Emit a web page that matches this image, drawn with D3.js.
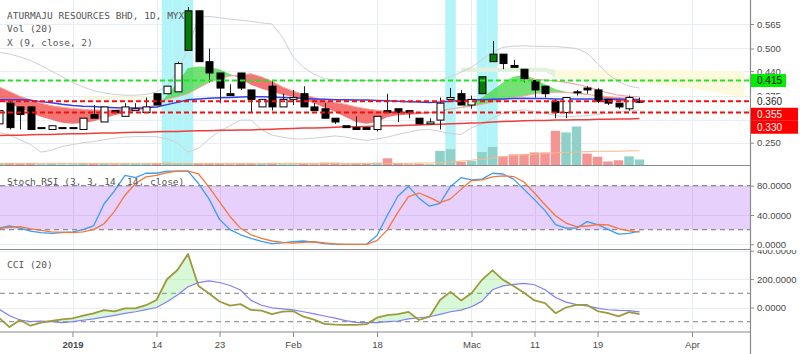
<!DOCTYPE html>
<html>
<head>
<meta charset="utf-8">
<script src="https://cdn.jsdelivr.net/npm/d3@7"></script>
<style>
  body { margin: 0; background: #fff; }
  svg { display: block; font-family: "Liberation Sans", Arial, sans-serif; }
  .legend { font-family: "DejaVu Sans Mono", monospace; font-size: 9.5px; fill: #555; }
  .axis text { font-family: "Liberation Sans", Arial, sans-serif; font-size: 9.5px; fill: #4a4a4a; }
  .axis line { stroke: #8a8a8a; }
</style>
</head>
<body>
<div id="chart"><svg width="800" height="354"></svg></div>
<script>
// ---- data (one entry per trading day) ----
const opens = [0.300,0.355,0.345,0.345,0.290,0.285,0.290,0.290,0.285,0.325,
  0.305,0.335,0.320,0.335,0.330,0.380,0.380,0.385,0.495,0.600,
  0.465,0.435,0.380,0.435,0.390,0.345,0.400,0.345,0.365,0.380,
  0.345,0.340,0.315,0.295,0.290,0.290,0.285,0.335,0.340,0.335,
  0.315,0.300,0.310,0.365,0.380,0.350,0.380,0.465,0.485,0.455,
  0.445,0.415,0.400,0.360,0.330,0.385,0.395,0.390,0.365,0.355,0.340,0.360];
const highs = [0.340,0.360,0.345,0.345,0.290,0.295,0.290,0.290,0.315,0.350,
  0.345,0.335,0.355,0.355,0.370,0.380,0.400,0.465,0.610,0.600,
  0.500,0.435,0.405,0.435,0.390,0.365,0.415,0.380,0.390,0.400,
  0.355,0.355,0.315,0.295,0.320,0.290,0.320,0.380,0.340,0.335,
  0.315,0.315,0.370,0.395,0.390,0.375,0.425,0.520,0.485,0.470,
  0.445,0.415,0.400,0.365,0.370,0.390,0.400,0.395,0.365,0.355,0.375,0.370];
const lows = [0.290,0.285,0.285,0.285,0.290,0.285,0.290,0.290,0.285,0.315,
  0.305,0.330,0.320,0.335,0.330,0.350,0.380,0.385,0.495,0.465,
  0.410,0.355,0.375,0.390,0.330,0.345,0.335,0.345,0.350,0.345,
  0.335,0.315,0.300,0.290,0.285,0.285,0.280,0.330,0.305,0.315,
  0.300,0.300,0.285,0.365,0.350,0.340,0.380,0.465,0.445,0.450,
  0.410,0.370,0.370,0.315,0.315,0.375,0.380,0.355,0.350,0.340,0.335,0.355];
const closes = [0.335,0.290,0.325,0.285,0.290,0.295,0.290,0.290,0.315,0.315,
  0.345,0.330,0.345,0.340,0.345,0.350,0.400,0.460,0.600,0.465,
  0.435,0.395,0.375,0.395,0.365,0.365,0.345,0.365,0.370,0.345,
  0.335,0.315,0.305,0.290,0.285,0.285,0.320,0.330,0.330,0.330,
  0.300,0.305,0.355,0.370,0.350,0.365,0.425,0.485,0.460,0.450,
  0.420,0.390,0.380,0.330,0.370,0.385,0.390,0.360,0.355,0.345,0.370,0.360];
const volumes = [3,5,4,5,2,3,2,2,4,3, 4,2,3,3,3,5,6,5,4,4,
  3,3,2,3,3,3,4,2,2,3, 2,6,6,2,3,3,6,17,4,2,
  3,2,36,40,8,10,33,46,22,27, 27,32,32,87,83,98,29,21,9,12,22,14];
const volumeMA = [4,4,4,4,4,4,4,4,4,4, 4,4,4,4,4,4,4,4,4,4,
  4,4,4,4,4,4,4,4,4,4, 4,4,4,4,4,4,4,4,4,4,
  5,5,6,8,10,12,15,18,21,24, 26,28,29,31,32,33,34,35,35,35,36,36];
const bbUpper = [0.490,0.485,0.478,0.468,0.455,0.440,0.425,0.410,0.398,0.388,
  0.382,0.378,0.376,0.376,0.378,0.385,0.400,0.440,0.500,0.583,
  0.585,0.582,0.578,0.575,0.572,0.568,0.565,0.530,0.478,0.450,
  0.432,0.420,0.417,0.415,0.415,0.415,0.415,0.415,0.415,0.415,
  0.415,0.415,0.415,0.425,0.437,0.450,0.470,0.490,0.503,0.506,
  0.507,0.506,0.505,0.505,0.503,0.500,0.488,0.460,0.432,0.412,0.400,0.395];
const bbLower = [0.277,0.270,0.258,0.245,0.225,0.230,0.240,0.245,0.250,0.253,
  0.258,0.262,0.265,0.266,0.266,0.266,0.260,0.250,0.225,0.235,
  0.260,0.280,0.295,0.310,0.310,0.285,0.270,0.265,0.260,0.260,
  0.262,0.265,0.268,0.265,0.260,0.256,0.260,0.265,0.272,0.278,
  0.284,0.285,0.280,0.274,0.272,0.290,0.300,0.315,0.328,0.335,
  0.337,0.333,0.328,0.322,0.319,0.320,0.322,0.325,0.328,0.331,0.334,0.337];
const maBlue = [0.364,0.364,0.364,0.363,0.359,0.356,0.352,0.349,0.347,0.346,
  0.344,0.343,0.342,0.342,0.343,0.345,0.351,0.357,0.364,0.366,
  0.368,0.369,0.370,0.371,0.372,0.372,0.371,0.370,0.369,0.367,
  0.366,0.365,0.364,0.364,0.363,0.363,0.362,0.361,0.360,0.359,
  0.358,0.357,0.358,0.360,0.362,0.364,0.364,0.365,0.366,0.367,
  0.368,0.367,0.367,0.366,0.366,0.366,0.366,0.366,0.365,0.365,0.364,0.364];
const maRed = [0.269,0.270,0.270,0.271,0.272,0.272,0.273,0.274,0.274,0.275,
  0.276,0.276,0.277,0.278,0.278,0.279,0.280,0.280,0.281,0.282,
  0.282,0.283,0.283,0.284,0.284,0.285,0.286,0.287,0.288,0.289,
  0.289,0.290,0.291,0.292,0.292,0.293,0.294,0.295,0.295,0.296,
  0.297,0.298,0.299,0.300,0.301,0.302,0.303,0.305,0.306,0.307,
  0.308,0.309,0.309,0.310,0.310,0.311,0.311,0.312,0.312,0.313,0.313,0.314];
const ribbonFast = [0.364,0.353,0.343,0.329,0.319,0.311,0.303,0.300,0.302,0.307,
  0.315,0.323,0.329,0.335,0.340,0.348,0.375,0.410,0.448,0.452,
  0.451,0.445,0.432,0.420,0.404,0.393,0.385,0.377,0.372,0.364,
  0.355,0.343,0.332,0.318,0.305,0.300,0.305,0.318,0.323,0.324,
  0.326,0.328,0.332,0.340,0.345,0.355,0.370,0.390,0.410,0.425,
  0.430,0.420,0.405,0.392,0.385,0.383,0.380,0.372,0.365,0.360,0.358,0.358];
const ribbonSlow = [0.398,0.386,0.373,0.364,0.355,0.348,0.344,0.341,0.339,0.337,
  0.337,0.337,0.339,0.343,0.345,0.349,0.365,0.372,0.380,0.395,
  0.410,0.420,0.427,0.430,0.433,0.425,0.413,0.398,0.387,0.378,
  0.370,0.362,0.357,0.352,0.345,0.340,0.336,0.333,0.331,0.330,
  0.330,0.330,0.334,0.340,0.343,0.347,0.352,0.358,0.364,0.370,
  0.374,0.380,0.383,0.384,0.383,0.381,0.378,0.375,0.372,0.370,0.368,0.366];
// thin pink line visible above the late green ribbon (days 50..61)
const pinkLine = [0.420,0.418,0.416,0.414,0.410,0.405,0.398,0.390,0.382,0.376,0.373,0.372];
const pinkStart = 50;
// pale cloud, runs into the future (index 0..71)
const cloudTop = [null,null,null,null,null,null,null,null,0.372,0.372,
  0.372,0.372,0.372,0.372,0.372,0.372,null,null,null,null,
  null,null,null,null,null,null,null,null,null,null,
  null,null,null,null,null,null,null,null,null,null,
  null,null,null,null,0.449,0.449,0.449,0.449,0.449,0.449,
  0.449,0.449,0.449,0.443,0.443,0.443,0.443,0.443,0.443,0.443,
  0.443,0.443,0.443,0.443,0.443,0.442,0.442,0.441,0.440,0.440,0.440,0.440];
const cloudBottom = [null,null,null,null,null,null,null,null,0.364,0.364,
  0.364,0.364,0.364,0.364,0.364,0.364,null,null,null,null,
  null,null,null,null,null,null,null,null,null,null,
  null,null,null,null,null,null,null,null,null,null,
  null,null,null,null,0.438,0.438,0.438,0.438,0.438,0.438,
  0.438,0.438,0.438,0.422,0.421,0.420,0.418,0.417,0.415,0.413,
  0.412,0.410,0.407,0.403,0.400,0.397,0.393,0.390,0.385,0.380,0.375,0.370];
const stochK = [22,25,22,18,16,15,16,17,20,25, 55,73,94,91,97,97,100,100,100,83,
  62,34,20,13,8,4,1,2,3.5,4.5, 3,1,0,0,0,0,12,40,66,79,
  63,52,56,79,91,88,89,97,96,89, 75,61,46,27,22,22,31,27,20.5,14, 15,18];
const stochD = [22,23,24,21,19,17,16.5,16,17,20, 28,45,67,83,92,94,98,100,100,96,
  78,58,38,22,13,8,4.5,2.5,1.5,2.5, 3.5,2,0.5,0,0,0,5,20,44,65,
  70,64,57,62,75,87,88,92,93.5,92.5, 85,70,54,39,29,24,25,27,26.5,21.5, 18.5,16.5];
const cci = [-72,-138,-88,-128,-107,-95,-84,-76,-58,-41, -18,-27,-6,-6,16,53,199,264,377,151,
  98,42,13,24,-17,-22,-46,-29,-25,-65, -86,-115,-121,-123,-123,-117,-72,-54,-47,-31,
  -88,-65,53,110,50,100,195,262,195,152, 104,50,31,-40,0,18,18,-25,-39,-62, -32,-47];
const cciMA = [-12,-58,-88,-100,-95,-100,-106,-100,-90,-80, -68,-55,-42,-30,-15,0,40,88,146,175,
  187,176,155,123,50,16,-2,-10,-17,-30, -45,-60,-75,-92,-105,-107,-107,-100,-95,-80,
  -72,-65,-48,-30,-18,5,45,125,152,163, 170,160,125,70,38,20,11,-4,-16,-20, -22,-31];

const highlightDays = [16, 17, 18, 43, 46, 47];
const greenCandleDays = [18, 46, 47];
const dateTicks = [7, 15, 21, 28, 36, 45, 51, 57, 66];
const dateLabels = ["2019", "14", "23", "Feb", "18", "Mac", "11", "19", "Apr"];
const priceTicks = [0.565, 0.5, 0.44, 0.375, 0.31, 0.25];
const stochTicks = [80, 40, 0];
const cciTicks = [400, 200, 0];
const levelGreen = [0.415];
const levelRed = [0.36, 0.33];
const priceLabelValues = [0.415, 0.360, 0.355, 0.330];
const priceLabelKinds = ["green", "last", "red", "red"];

// ---- layout ----
const W = 800, H = 354, plotRight = 750;
const mainP = { top: 0, bottom: 165 };
const stochP = { top: 166, bottom: 249 };
const cciP = { top: 250, bottom: 332 };

const svg = d3.select("#chart svg");
const defs = svg.append("defs");
const days = d3.range(opens.length);

const x = d3.scaleLinear().domain([0, 66]).range([-1, 692]);
const yPrice = d3.scaleLinear().domain([0.25, 0.565]).range([142.7, 24]);
const yVol = d3.scaleLinear().domain([0, 100]).range([165, 125.7]);
const yStoch = d3.scaleLinear().domain([0, 80]).range([244.3, 185.7]);
const yCci = d3.scaleLinear().domain([0, 200]).range([307.5, 279.1]);

function clip(id, p) {
  defs.append("clipPath").attr("id", id)
    .append("rect").attr("x", 0).attr("y", p.top)
    .attr("width", plotRight).attr("height", p.bottom - p.top);
}
clip("clip-main", mainP);
clip("clip-stoch", stochP);
clip("clip-cci", cciP);

// vertical grid through all panes
svg.append("g").selectAll("line").data(dateTicks).join("line")
  .attr("x1", (d) => Math.round(x(d)) + 0.5).attr("x2", (d) => Math.round(x(d)) + 0.5)
  .attr("y1", 0).attr("y2", cciP.bottom)
  .attr("stroke", "#e8eef3");

function hGrid(g, ticks, scale) {
  g.append("g").selectAll("line").data(ticks).join("line")
    .attr("x1", 0).attr("x2", plotRight)
    .attr("y1", (d) => Math.round(scale(d)) + 0.5).attr("y2", (d) => Math.round(scale(d)) + 0.5)
    .attr("stroke", "#e8eef3");
}

// fills the gap between two series, colour chosen by which one is on top
function pairFill(g, a, b, scale, p, upColor, downColor, id, start) {
  start = start || 0;
  const pts = d3.range(a.length);
  const px = (i) => x(i + start);
  const between = d3.area().x(px).y0((i) => scale(b[i])).y1((i) => scale(a[i]));
  const above = d3.area().x(px).y0(p.top).y1((i) => scale(b[i]));
  const below = d3.area().x(px).y0((i) => scale(b[i])).y1(p.bottom);
  defs.append("clipPath").attr("id", id + "-up").append("path").attr("d", above(pts));
  g.append("path").attr("d", between(pts)).attr("fill", upColor)
    .attr("clip-path", `url(#${id}-up)`);
  if (downColor) {
    defs.append("clipPath").attr("id", id + "-dn").append("path").attr("d", below(pts));
    g.append("path").attr("d", between(pts)).attr("fill", downColor)
      .attr("clip-path", `url(#${id}-dn)`);
  }
}

function drawLine(g, values, scale, color, width, start) {
  start = start || 0;
  const line = d3.line().defined((d) => d != null)
    .x((d, i) => x(i + start)).y((d) => scale(d));
  g.append("path").datum(values).attr("d", line)
    .attr("fill", "none").attr("stroke", color).attr("stroke-width", width)
    .attr("stroke-linejoin", "round");
}

// ---- main pane ----
const main = svg.append("g").attr("clip-path", "url(#clip-main)");
hGrid(main, priceTicks, yPrice);

main.append("g").selectAll("rect").data(highlightDays).join("rect")
  .attr("x", (d) => x(d) - 5.25).attr("width", 10.5)
  .attr("y", mainP.top).attr("height", mainP.bottom - mainP.top)
  .attr("fill", "#b3f4f8");

// pale cloud
const cloudIdx = d3.range(cloudTop.length);
const cloudArea = d3.area().defined((i) => cloudTop[i] != null)
  .x((i) => x(i)).y0((i) => yPrice(cloudBottom[i])).y1((i) => yPrice(cloudTop[i]));
main.append("path").attr("d", cloudArea(cloudIdx.filter((i) => i < 20)))
  .attr("fill", "#fbf8d8").attr("opacity", 0.8);
main.append("path").attr("d", cloudArea(cloudIdx.filter((i) => i >= 44 && i <= 53)))
  .attr("fill", "#e2f1da");
main.append("path").attr("d", cloudArea(cloudIdx.filter((i) => i >= 53)))
  .attr("fill", "#fcf9dc");

// volume
main.append("g").selectAll("rect").data(days).join("rect")
  .attr("x", (i) => x(i) - 4.75).attr("width", 9.5)
  .attr("y", (i) => yVol(volumes[i])).attr("height", (i) => yVol(0) - yVol(volumes[i]))
  .attr("fill", (i) => (closes[i] >= opens[i] ? "#8fd1c9" : "#f59593"));
drawLine(main, volumeMA, yVol, "#f8b98a", 1);

// bands and averages
drawLine(main, bbUpper, yPrice, "#cfcfcf", 1);
drawLine(main, bbLower, yPrice, "#cfcfcf", 1);
pairFill(main, ribbonFast, ribbonSlow, yPrice, mainP, "rgba(70,215,70,0.75)", "rgba(240,70,70,0.75)", "rib");
drawLine(main, ribbonSlow, yPrice, "#f7a6a0", 1);
drawLine(main, pinkLine, yPrice, "#f6a3a3", 1.2, pinkStart);
drawLine(main, maBlue, yPrice, "#3440ee", 1.5);
drawLine(main, maRed, yPrice, "#f23c3c", 1.5);

// candles
const candle = main.append("g").selectAll("g").data(days).join("g");
candle.append("line")
  .attr("x1", (i) => Math.round(x(i)) + 0.5).attr("x2", (i) => Math.round(x(i)) + 0.5)
  .attr("y1", (i) => yPrice(highs[i])).attr("y2", (i) => yPrice(lows[i]))
  .attr("stroke", "#222").attr("stroke-width", 1);
candle.append("rect")
  .attr("x", (i) => Math.round(x(i)) - 3)
  .attr("width", 7)
  .attr("y", (i) => Math.min(yPrice(opens[i]), yPrice(closes[i])))
  .attr("height", (i) => Math.max(1, Math.abs(yPrice(opens[i]) - yPrice(closes[i]))))
  .attr("fill", (i) => greenCandleDays.includes(i) ? "#077a07" : (closes[i] > opens[i] ? "#fff" : "#000"))
  .attr("stroke", "#000").attr("stroke-width", 1);

// level lines
main.append("g").selectAll("line").data(levelGreen).join("line")
  .attr("x1", 0).attr("x2", plotRight)
  .attr("y1", (d) => yPrice(d)).attr("y2", (d) => yPrice(d))
  .attr("stroke", "#1ee81e").attr("stroke-width", 2).attr("stroke-dasharray", "5,3");
main.append("g").selectAll("line").data(levelRed).join("line")
  .attr("x1", 0).attr("x2", plotRight)
  .attr("y1", (d) => yPrice(d)).attr("y2", (d) => yPrice(d))
  .attr("stroke", "#f01010").attr("stroke-width", 2).attr("stroke-dasharray", "5,3");

// ---- stoch RSI pane ----
const stoch = svg.append("g").attr("clip-path", "url(#clip-stoch)");
hGrid(stoch, stochTicks, yStoch);
stoch.append("rect").attr("x", 0).attr("width", plotRight)
  .attr("y", yStoch(80)).attr("height", yStoch(20) - yStoch(80))
  .attr("fill", "rgba(150,40,240,0.22)");
stoch.append("g").selectAll("line").data([80, 20]).join("line")
  .attr("x1", 0).attr("x2", plotRight)
  .attr("y1", (d) => yStoch(d)).attr("y2", (d) => yStoch(d))
  .attr("stroke", "#8c8c8c").attr("stroke-width", 1.2).attr("stroke-dasharray", "5,4");
drawLine(stoch, stochK, yStoch, "#3a9cf2", 1.3);
drawLine(stoch, stochD, yStoch, "#f4773a", 1.3);

// ---- CCI pane ----
const cciG = svg.append("g").attr("clip-path", "url(#clip-cci)");
hGrid(cciG, cciTicks, yCci);
cciG.append("g").selectAll("line").data([100, -100]).join("line")
  .attr("x1", 0).attr("x2", plotRight)
  .attr("y1", (d) => yCci(d)).attr("y2", (d) => yCci(d))
  .attr("stroke", "#9a9a9a").attr("stroke-width", 1.2).attr("stroke-dasharray", "5,4");
pairFill(cciG, cci, cciMA, yCci, cciP, "rgba(120,230,110,0.28)", null, "cci");
drawLine(cciG, cciMA, yCci, "#8080f4", 1.2);
drawLine(cciG, cci, yCci, "#9c9a3c", 1.8);

// ---- separators and axes ----
svg.append("g").selectAll("line").data([mainP.bottom + 0.5, stochP.bottom + 0.5, cciP.bottom]).join("line")
  .attr("x1", 0).attr("x2", plotRight).attr("y1", (d) => d).attr("y2", (d) => d)
  .attr("stroke", "#8a8a8a").attr("stroke-width", 1.2);
svg.append("line").attr("x1", plotRight + 0.5).attr("x2", plotRight + 0.5)
  .attr("y1", 0).attr("y2", H).attr("stroke", "#8a8a8a").attr("stroke-width", 1.2);

function rightAxis(scale, ticks, fmt, p) {
  const g = svg.append("g").attr("class", "axis")
    .attr("transform", `translate(${plotRight},0)`)
    .call(d3.axisRight(scale).tickValues(ticks).tickFormat(fmt).tickSize(4).tickPadding(3));
  g.select(".domain").remove();
  g.attr("font-size", null).attr("font-family", null);
  if (p) {
    defs.append("clipPath").attr("id", "ax-" + p.top)
      .append("rect").attr("x", 0).attr("y", p.top).attr("width", 60).attr("height", p.bottom - p.top);
    g.attr("clip-path", `url(#ax-${p.top})`);
  }
  return g;
}
rightAxis(yPrice, priceTicks, d3.format(".3f"));
rightAxis(yStoch, stochTicks, d3.format(".4f"));
rightAxis(yCci, cciTicks, d3.format(".4f"), { top: cciP.top, bottom: H });

const xAxis = svg.append("g").attr("class", "axis")
  .attr("transform", `translate(0,${cciP.bottom})`)
  .call(d3.axisBottom(x).tickValues(dateTicks)
    .tickFormat((d, i) => dateLabels[i]).tickSize(5).tickPadding(4));
xAxis.select(".domain").remove();
xAxis.attr("font-size", null).attr("font-family", null);
xAxis.selectAll("text").attr("font-weight", (d, i) => (dateLabels[i] === "2019" ? "bold" : null));

// price labels on the scale, pushed down when they overlap
const labelStyle = {
  green: { bg: "#00ee00", fg: "#000", w: 35 },
  last: { bg: "#fff", fg: "#222", w: 40 },
  red: { bg: "#ff0000", fg: "#fff", w: 47 },
};
let lastBottom = -Infinity;
const tags = priceLabelValues.map((v, i) => {
  const top = Math.max(yPrice(v) - 6.5, lastBottom);
  lastBottom = top + 13;
  return { v, kind: priceLabelKinds[i], top };
});
const tagG = svg.append("g").selectAll("g").data(tags).join("g")
  .attr("transform", (d) => `translate(${plotRight + 1},${d.top})`);
tagG.append("rect").attr("width", (d) => labelStyle[d.kind].w).attr("height", 13)
  .attr("fill", (d) => labelStyle[d.kind].bg);
tagG.append("text").attr("x", 6).attr("y", 6.5).attr("dy", "0.35em")
  .attr("font-size", 10).attr("fill", (d) => labelStyle[d.kind].fg)
  .text((d) => d3.format(".3f")(d.v));

// ---- legends ----
const legend = svg.append("g").attr("class", "legend");
legend.append("text").attr("x", 7).attr("y", 19).text("ATURMAJU RESOURCES BHD, 1D, MYX");
legend.append("text").attr("x", 7).attr("y", 32).text("Vol (20)");
legend.append("text").attr("x", 7).attr("y", 45.5).text("X (9, close, 2)");
legend.append("text").attr("x", 7).attr("y", 184.5).text("Stoch RSI (3, 3, 14, 14, close)");
legend.append("text").attr("x", 7).attr("y", 268).text("CCI (20)");
</script>
</body>
</html>
